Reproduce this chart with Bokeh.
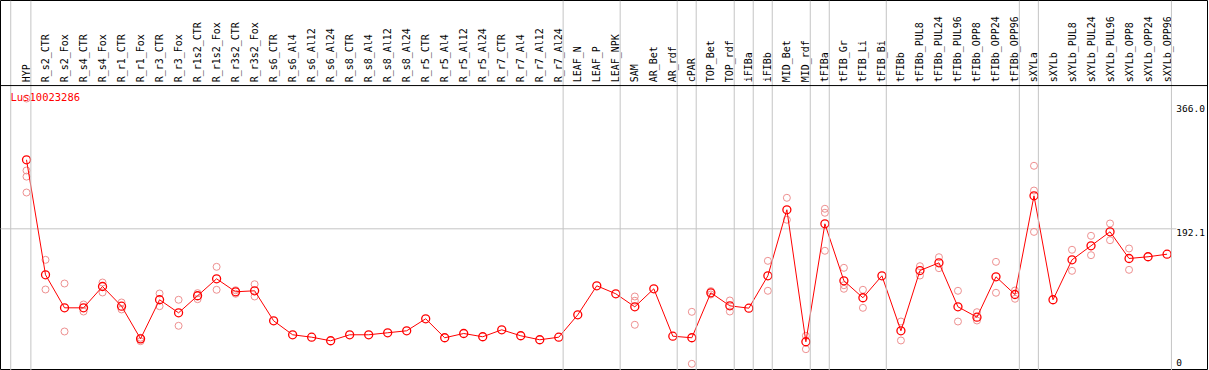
import math
from bokeh.plotting import figure
from bokeh.models import Span, Range1d
from bokeh.core.properties import value
from bokeh.embed import file_html
from bokeh.resources import INLINE

title = "Lus10023286"

labels = ["HYP", "R_s2_CTR", "R_s2_Fox", "R_s4_CTR", "R_s4_Fox", "R_r1_CTR", "R_r1_Fox",
          "R_r3_CTR", "R_r3_Fox", "R_r1s2_CTR", "R_r1s2_Fox", "R_r3s2_CTR", "R_r3s2_Fox",
          "R_s6_CTR", "R_s6_Al4", "R_s6_Al12", "R_s6_Al24", "R_s8_CTR", "R_s8_Al4", "R_s8_Al12",
          "R_s8_Al24", "R_r5_CTR", "R_r5_Al4", "R_r5_Al12", "R_r5_Al24", "R_r7_CTR", "R_r7_Al4",
          "R_r7_Al12", "R_r7_Al24", "LEAF_N", "LEAF_P", "LEAF_NPK", "SAM", "AR_Bet", "AR_rdf",
          "cPAR", "TOP_Bet", "TOP_rdf", "iFIBa", "iFIBb", "MID_Bet", "MID_rdf", "tFIBa",
          "tFIB_Gr", "tFIB_Li", "tFIB_Bi", "tFIBb", "tFIBb_PUL8", "tFIBb_PUL24", "tFIBb_PUL96",
          "tFIBb_OPP8", "tFIBb_OPP24", "tFIBb_OPP96", "sXYLa", "sXYLb", "sXYLb_PUL8",
          "sXYLb_PUL24", "sXYLb_PUL96", "sXYLb_OPP8", "sXYLb_OPP24", "sXYLb_OPP96"]

means = [288.9, 127.6, 81.3, 81.3, 111.2, 83.6, 37.8, 92.6, 74.3, 98.2, 122.0, 103.8, 105.2,
         63.1, 43.5, 40.1, 35.1, 43.5, 43.5, 46.3, 49.1, 65.9, 39.3, 45.3, 40.7, 50.5, 42.1,
         36.5, 40.1, 71.5, 112.2, 101.0, 82.7, 108.0, 41.5, 39.3, 102.4, 84.1, 80.8, 126.2,
         218.8, 33.7, 199.1, 119.2, 95.4, 126.2, 49.1, 133.6, 144.4, 82.7, 68.2, 124.8, 100.0,
         238.4, 92.6, 148.6, 168.3, 187.9, 150.5, 152.9, 156.5]

rep_names = ["HYP", "HYP", "HYP", "HYP", "R_s2_CTR", "R_s2_CTR", "R_s2_Fox", "R_s2_Fox",
             "R_s4_CTR", "R_s4_CTR", "R_s4_Fox", "R_s4_Fox", "R_r1_CTR", "R_r1_CTR",
             "R_r1_Fox", "R_r1_Fox", "R_r3_CTR", "R_r3_CTR", "R_r3_Fox", "R_r3_Fox",
             "R_r1s2_CTR", "R_r1s2_CTR", "R_r1s2_Fox", "R_r1s2_Fox", "R_r3s2_CTR", "R_r3s2_CTR",
             "R_r3s2_Fox", "R_r3s2_Fox", "SAM", "SAM", "SAM", "cPAR", "cPAR", "TOP_Bet",
             "TOP_Bet", "TOP_rdf", "TOP_rdf", "iFIBb", "iFIBb", "MID_Bet", "MID_Bet",
             "MID_rdf", "MID_rdf", "tFIBa", "tFIBa", "tFIBa", "tFIB_Gr", "tFIB_Gr", "tFIB_Gr",
             "tFIB_Li", "tFIB_Li", "tFIBb", "tFIBb", "tFIBb_PUL8", "tFIBb_PUL8",
             "tFIBb_PUL24", "tFIBb_PUL24", "tFIBb_PUL96", "tFIBb_PUL96", "tFIBb_OPP8",
             "tFIBb_OPP8", "tFIBb_OPP24", "tFIBb_OPP24", "tFIBb_OPP96", "tFIBb_OPP96",
             "sXYLa", "sXYLa", "sXYLa", "sXYLb_PUL8", "sXYLb_PUL8", "sXYLb_PUL24",
             "sXYLb_PUL24", "sXYLb_PUL96", "sXYLb_PUL96", "sXYLb_OPP8", "sXYLb_OPP8"]
rep_vals = [374.8, 273.9, 265.3, 243.0, 148.6, 107.0, 115.4, 48.1,
            86.0, 76.1, 116.8, 102.8, 88.8, 79.0,
            39.3, 34.5, 101.4, 83.6, 92.6, 56.1,
            101.9, 93.4, 138.8, 106.6, 106.0, 101.0,
            114.4, 97.2, 97.2, 91.2, 57.5, 75.7, 2.8, 100.0,
            104.8, 91.6, 76.1, 147.2, 105.2, 235.6, 204.8,
            42.1, 23.3, 220.2, 214.6, 161.3, 137.4, 108.0, 113.0,
            106.6, 81.3, 62.1, 35.5, 139.7, 126.6,
            152.3, 136.9, 105.2, 62.1, 75.2,
            63.5, 145.8, 102.4, 105.6, 94.0,
            280.5, 245.8, 187.8, 162.7, 133.2, 182.3,
            155.1, 199.6, 176.1, 164.5, 134.6]

# last column of each group (a grey separator follows it)
group_ends = ["HYP", "R_r7_Al24", "LEAF_NPK", "AR_rdf", "cPAR", "TOP_rdf", "iFIBa", "iFIBb",
              "MID_rdf", "tFIBa", "tFIB_Bi", "tFIBb_OPP96", "sXYLa", "sXYLb_OPP96"]

tick_vals = [366.0, 192.1, 0.0]
tick_labels = ["366.0", "192.1", "0"]

idx = {n: i for i, n in enumerate(labels)}
xs = list(range(len(labels)))
rep_x = [idx[n] for n in rep_names]

FONT = value("DejaVu Sans Mono")
GRID = "#c4c4c4"
HEADER_Y = 393.0
LABEL_X = 60.49

p = figure(width=1208, height=370, output_backend="svg", toolbar_location=None,
           x_range=Range1d(-1.368, 62.18), y_range=Range1d(-6.6, 512.3),
           min_border=0, min_border_left=0, min_border_right=0,
           min_border_top=0, min_border_bottom=0)
p.xaxis.visible = False
p.yaxis.visible = False
p.grid.visible = False
p.outline_line_color = "black"
p.outline_line_width = 1
p.background_fill_color = "white"
p.border_fill_color = "white"

# separators
p.add_layout(Span(location=-0.83, dimension="height", line_color=GRID, line_width=1))
for g in group_ends:
    p.add_layout(Span(location=idx[g] + 0.23, dimension="height", line_color=GRID, line_width=1))

# header line
p.add_layout(Span(location=HEADER_Y, dimension="width", line_color="black", line_width=1))

# middle value grid line
p.segment(x0=[-1.4], y0=[tick_vals[1]], x1=[LABEL_X], y1=[tick_vals[1]],
          line_color=GRID, line_width=1)

# replicate points
p.scatter(rep_x, rep_vals, marker="circle", size=7, fill_color=None,
          line_color="#ee9090", line_width=1)

# mean line + points
p.line(xs, means, line_color="#ff0000", line_width=1)
p.scatter(xs, means, marker="circle", size=8, fill_color=None,
          line_color="#ff0000", line_width=1.3)

# column labels (vertical)
p.text(x=xs, y=[HEADER_Y + 4.5] * len(xs), text=labels, angle=math.pi / 2,
       text_align="left", text_baseline="middle", text_font=FONT,
       text_font_size="10px", text_color="black")

# gene title
p.text(x=[-0.84], y=[376.3], text=[title], text_align="left", text_baseline="middle",
       text_font=FONT, text_font_size="10.5px", text_color="#ff0000")

# right value labels
p.text(x=[LABEL_X, LABEL_X], y=tick_vals[:2], text=tick_labels[:2], text_align="left",
       text_baseline="top", text_font=FONT, text_font_size="9.5px", text_color="black")
p.text(x=[LABEL_X], y=tick_vals[2:], text=tick_labels[2:], text_align="left",
       text_baseline="bottom", text_font=FONT, text_font_size="9.5px", text_color="black")

open("out.html", "w").write(file_html(p, INLINE))
